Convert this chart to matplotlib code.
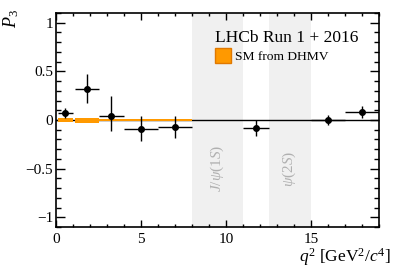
import matplotlib
matplotlib.use("Agg")
import matplotlib.pyplot as plt
from matplotlib.patches import Patch
from matplotlib.ticker import MultipleLocator

# measured P3 per q2 bin
bin_lo = [0.1, 1.1, 2.5, 4.0, 6.0, 11.0, 15.0, 17.0]
bin_hi = [0.98, 2.5, 4.0, 6.0, 8.0, 12.5, 17.0, 19.0]
p3 = [0.07, 0.32, 0.045, -0.09, -0.07, -0.08, -0.003, 0.08]
err_up = [0.05, 0.15, 0.20, 0.13, 0.11, 0.08, 0.05, 0.06]
err_dn = [0.05, 0.15, 0.16, 0.13, 0.11, 0.08, 0.05, 0.06]

# SM prediction (DHMV), only for low-q2 bins
sm_lo = [0.1, 1.1, 2.5, 4.0, 6.0]
sm_hi = [0.98, 2.5, 4.0, 6.0, 8.0]
sm_val = [-0.003, -0.003, -0.002, -0.002, -0.002]
sm_err = [0.02, 0.023, 0.013, 0.013, 0.013]

# charmonium vetoes
veto_lo = [8.0, 12.5]
veto_hi = [11.0, 15.0]
veto_lab = [r"$J/\psi(1S)$", r"$\psi(2S)$"]

plt.rcParams["font.family"] = ["Liberation Serif", "DejaVu Serif"]
plt.rcParams["mathtext.fontset"] = "custom"
plt.rcParams["mathtext.rm"] = "Liberation Serif"
plt.rcParams["mathtext.it"] = "Liberation Serif:italic"

fig = plt.figure(figsize=(3.99, 2.71), dpi=100)
ax = fig.add_axes([0.1404, 0.1624, 0.8096, 0.7896])

for lo, hi, lab in zip(veto_lo, veto_hi, veto_lab):
    ax.axvspan(lo, hi, color="#f0f0f0", lw=0, zorder=0)
    ax.text((lo + hi) / 2, -0.5, lab, rotation=90, ha="center", va="center",
            color="#b0b0b0", fontsize=11)

ax.axhline(0, color="black", lw=1.0, zorder=1)

for lo, hi, v, e in zip(sm_lo, sm_hi, sm_val, sm_err):
    ax.fill_between([lo, hi], v - e, v + e, color="#ff9900", lw=0, zorder=2)

x = [(lo + hi) / 2 for lo, hi in zip(bin_lo, bin_hi)]
xerr = [[xi - lo for xi, lo in zip(x, bin_lo)], [hi - xi for xi, hi in zip(x, bin_hi)]]
ax.errorbar(x, p3, xerr=xerr, yerr=[err_dn, err_up], fmt="o", color="black",
            ms=4, elinewidth=1.0, capsize=0, zorder=3)

ax.set_xlim(0, 19)
ax.set_ylim(-1.1, 1.1)
ax.xaxis.set_major_locator(MultipleLocator(5))
ax.xaxis.set_minor_locator(MultipleLocator(1))
ax.yaxis.set_minor_locator(MultipleLocator(0.1))
ax.set_yticks([-1, -0.5, 0, 0.5, 1])
ax.set_yticklabels(["\u22121", "\u22120.5", "0", "0.5", "1"])
ax.tick_params(which="both", direction="in", top=True, right=True, labelsize=11, width=1.0)
ax.tick_params(axis="x", which="major", length=5, pad=4)
ax.tick_params(axis="x", which="minor", length=2.5)
ax.tick_params(axis="y", which="major", length=6.5, pad=2)
ax.tick_params(axis="y", which="minor", length=3.6)
for s in ax.spines.values():
    s.set_linewidth(1.2)

ax.set_xlabel(r"$q^2$ [GeV$^2$/$c^4$]", fontsize=12.5, ha="right")
ax.xaxis.set_label_coords(1.035, -0.09)
fig.text(0.027, 0.965, r"$P_3$", rotation=90, ha="center", va="top", fontsize=13)

ax.text(0.492, 0.885, "LHCb Run 1 + 2016", transform=ax.transAxes, ha="left",
        va="center", fontsize=12.5)
ax.legend(handles=[Patch(facecolor="#ff9900", edgecolor="#e07800", label="SM from DHMV")],
          loc="upper left", bbox_to_anchor=(0.47, 0.867), frameon=False, fontsize=9.7,
          handlelength=1.2, handleheight=1.3, handletextpad=0.3, borderpad=0)

fig.savefig("out.png", dpi=100)
